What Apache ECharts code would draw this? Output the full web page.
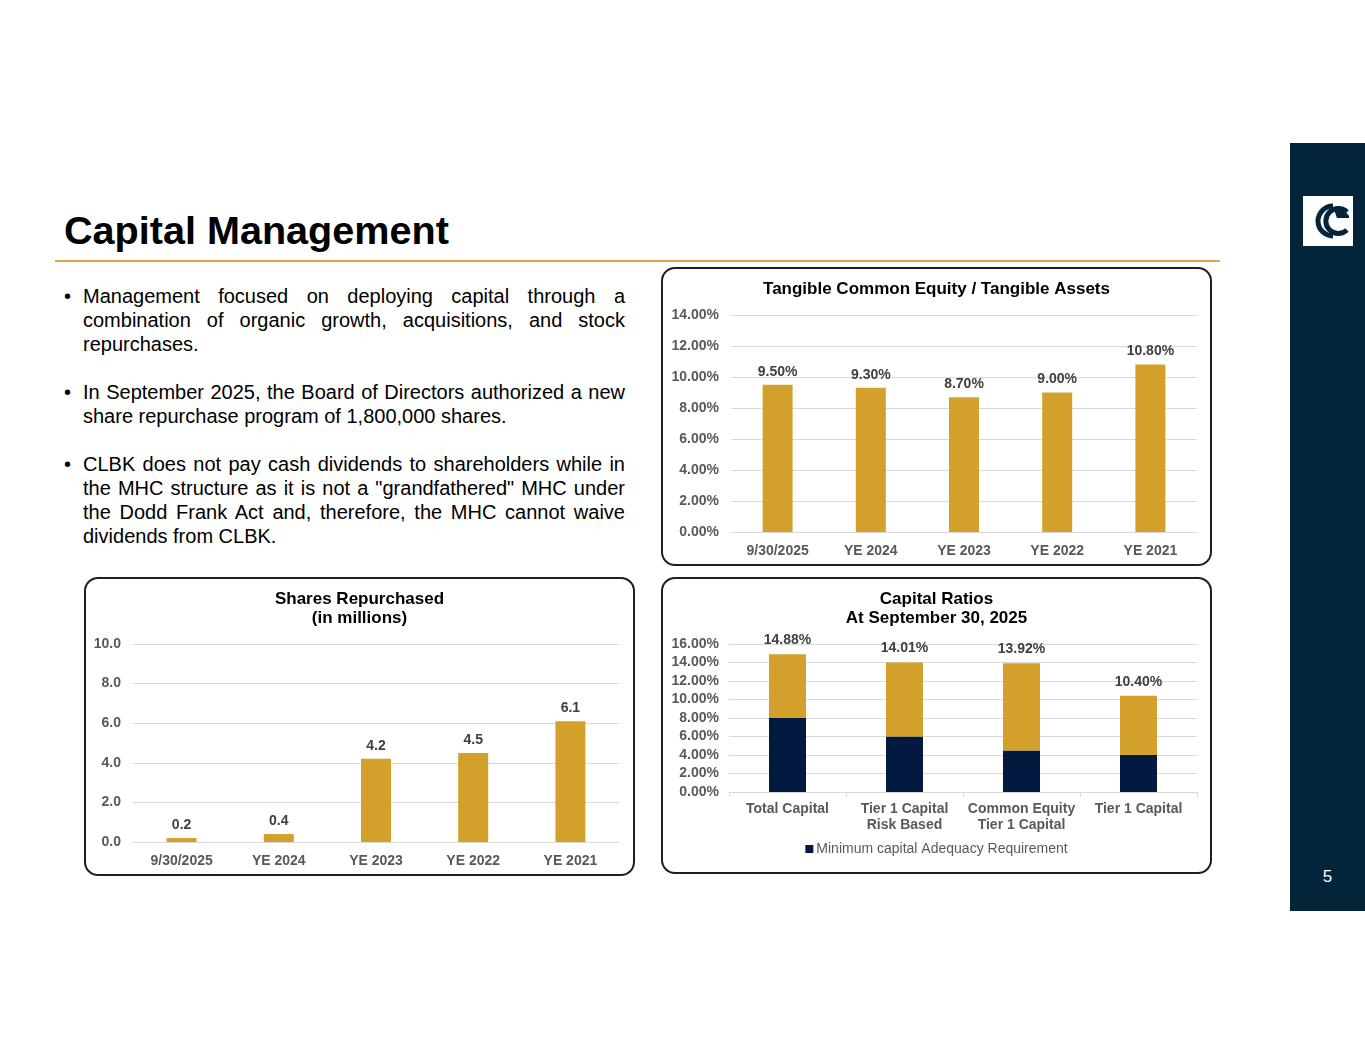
<!DOCTYPE html>
<html>
<head>
<meta charset="utf-8">
<script src="https://cdn.jsdelivr.net/npm/echarts@6/dist/echarts.min.js"></script>
<style>
  html, body { margin:0; padding:0; background:#fff; }
  body { width:1365px; height:1055px; position:relative; overflow:hidden;
         font-family:"Liberation Sans", Arial, sans-serif; }
  #title { position:absolute; left:64px; top:210px; font-size:39.6px; line-height:40px;
           font-weight:bold; color:#000; white-space:nowrap; }
  #rule { position:absolute; left:55px; top:260px; width:1165px; height:2px; background:#d9aa3e; }
  #bullets { position:absolute; left:64px; top:284px; width:561px; font-size:20px;
             line-height:24px; color:#000; }
  .item { position:relative; padding-left:19px; text-align:justify; margin-bottom:24px; }
  .item:before { content:"\2022"; position:absolute; left:0; top:0; }
  .panel { position:absolute; }
  .frame { position:absolute; box-sizing:border-box; border:2px solid #1f1f1f;
           border-radius:14px; pointer-events:none; }
  #side { position:absolute; left:1290px; top:143px; width:75px; height:768px; background:#04243a; }
  #pnum { position:absolute; left:1290px; width:75px; top:867px; text-align:center;
          color:#fff; font-size:17px; }
  #logo { position:absolute; left:1303px; top:196px; }
</style>
</head>
<body>
<div id="title">Capital Management</div>
<div id="rule"></div>
<div id="bullets">
  <div class="item">Management focused on deploying capital through a combination of organic growth, acquisitions, and stock repurchases.</div>
  <div class="item">In September 2025, the Board of Directors authorized a new share repurchase program of 1,800,000 shares.</div>
  <div class="item">CLBK does not pay cash dividends to shareholders while in the MHC structure as it is not a "grandfathered" MHC under the Dodd Frank Act and, therefore, the MHC cannot waive dividends from CLBK.</div>
</div>

<div id="side"></div>
<svg id="logo" width="50" height="50" viewBox="0 0 50 50">
  <rect x="0" y="0" width="50" height="50" fill="#ffffff"/>
  <path d="M30 10 A15 15 0 1 0 30 40" fill="none" stroke="#04243a" stroke-width="5"/>
  <path d="M44 16 A12.5 12.5 0 1 0 44 34" fill="none" stroke="#04243a" stroke-width="5"/>
  <path d="M30 11 Q40 10 46 20 L46 22 L34 22 Z" fill="#04243a"/>
</svg>
<div id="pnum">5</div>

<div id="c1" class="panel" style="left:661px;top:267px;width:551px;height:299px;"></div>
<div class="frame" style="left:661px;top:267px;width:551px;height:299px;"></div>
<div id="c2" class="panel" style="left:84px;top:577px;width:551px;height:299px;"></div>
<div class="frame" style="left:84px;top:577px;width:551px;height:299px;"></div>
<div id="c3" class="panel" style="left:661px;top:577px;width:551px;height:297px;"></div>
<div class="frame" style="left:661px;top:577px;width:551px;height:297px;"></div>

<script>
// ---- Data ----
const tceCategories = ['9/30/2025', 'YE 2024', 'YE 2023', 'YE 2022', 'YE 2021'];
const tceValues = [9.50, 9.30, 8.70, 9.00, 10.80];

const shareCategories = ['9/30/2025', 'YE 2024', 'YE 2023', 'YE 2022', 'YE 2021'];
const shareValues = [0.2, 0.4, 4.2, 4.5, 6.1];

const ratioCategories = ['Total Capital', 'Tier 1 Capital\nRisk Based', 'Common Equity\nTier 1 Capital', 'Tier 1 Capital'];
const ratioTotals = [14.88, 14.01, 13.92, 10.40];
const ratioMinimums = [8.0, 6.0, 4.5, 4.0];

const tceTicks = { min: 0, max: 14, interval: 2 };
const shareTicks = { min: 0, max: 10, interval: 2 };
const ratioTicks = { min: 0, max: 16, interval: 2 };

// ---- Styles ----
const FONT = '"Liberation Sans", Arial, sans-serif';
const GOLD = '#d4a02c';
const NAVY = '#021a40';
const AXIS_TXT = '#595959';
const LBL_TXT = '#404040';
const GRID = '#d9d9d9';

function titleOpt(text) {
  return { text: text, left: 'center', top: 8,
    textStyle: { fontFamily: FONT, fontSize: 17, fontWeight: 'bold', color: '#000', lineHeight: 19 } };
}
function catAxis(data, margin, ticks) {
  return { type: 'category', data: data,
    axisLine: { lineStyle: { color: GRID, width: 1 } },
    axisTick: { show: ticks, length: 5, lineStyle: { color: GRID } },
    axisLabel: { interval: 0, margin: margin, fontFamily: FONT, fontSize: 14, fontWeight: 'bold',
      color: AXIS_TXT, lineHeight: 16 } };
}
function valAxis(t, fmt, margin) {
  return { type: 'value', min: t.min, max: t.max, interval: t.interval,
    axisLine: { show: false }, axisTick: { show: false },
    splitLine: { lineStyle: { color: GRID, width: 1 } },
    axisLabel: { margin: margin, formatter: fmt, fontFamily: FONT, fontSize: 14, fontWeight: 'bold', color: AXIS_TXT } };
}
const pct = v => v.toFixed(2) + '%';

// ---- Chart 1: TCE / TA ----
const c1 = echarts.init(document.getElementById('c1'));
c1.setOption({
  animation: false,
  title: titleOpt('Tangible Common Equity / Tangible Assets'),
  grid: { left: 70, right: 15, top: 48, bottom: 34 },
  xAxis: catAxis(tceCategories, 11, false),
  yAxis: valAxis(tceTicks, pct, 12),
  series: [{ type: 'bar', data: tceValues, barWidth: 30, itemStyle: { color: GOLD },
    label: { show: true, position: 'top', distance: 6, formatter: p => pct(p.value),
      fontFamily: FONT, fontSize: 14, fontWeight: 'bold', color: LBL_TXT } }]
});

// ---- Chart 2: Shares repurchased ----
const c2 = echarts.init(document.getElementById('c2'));
c2.setOption({
  animation: false,
  title: titleOpt('Shares Repurchased\n(in millions)'),
  grid: { left: 49, right: 16, top: 67, bottom: 34 },
  xAxis: catAxis(shareCategories, 11, false),
  yAxis: valAxis(shareTicks, v => v.toFixed(1), 12),
  series: [{ type: 'bar', data: shareValues, barWidth: 30, itemStyle: { color: GOLD },
    label: { show: true, position: 'top', distance: 6, formatter: p => p.value.toFixed(1),
      fontFamily: FONT, fontSize: 14, fontWeight: 'bold', color: LBL_TXT } }]
});

// ---- Chart 3: Capital ratios ----
const ratioExcess = ratioTotals.map((t, i) => +(t - ratioMinimums[i]).toFixed(2));
const c3 = echarts.init(document.getElementById('c3'));
c3.setOption({
  animation: false,
  title: titleOpt('Capital Ratios\nAt September 30, 2025'),
  grid: { left: 68, right: 15, top: 67, bottom: 82 },
  legend: { data: ['Minimum capital Adequacy Requirement'], bottom: 13, left: 'center',
    icon: 'rect', itemWidth: 8, itemHeight: 8, itemGap: 4,
    textStyle: { fontFamily: FONT, fontSize: 14, color: AXIS_TXT, padding: [0, 0, 0, -2] } },
  xAxis: catAxis(ratioCategories, 9, true),
  yAxis: valAxis(ratioTicks, pct, 10),
  series: [
    { name: 'Minimum capital Adequacy Requirement', type: 'bar', stack: 'cap', data: ratioMinimums,
      barWidth: 37, itemStyle: { color: NAVY } },
    { name: 'Capital Ratio', type: 'bar', stack: 'cap', data: ratioExcess, barWidth: 37,
      itemStyle: { color: GOLD },
      label: { show: true, position: 'top', distance: 7, formatter: p => pct(ratioTotals[p.dataIndex]),
        fontFamily: FONT, fontSize: 14, fontWeight: 'bold', color: LBL_TXT } }
  ]
});
</script>
</body>
</html>
